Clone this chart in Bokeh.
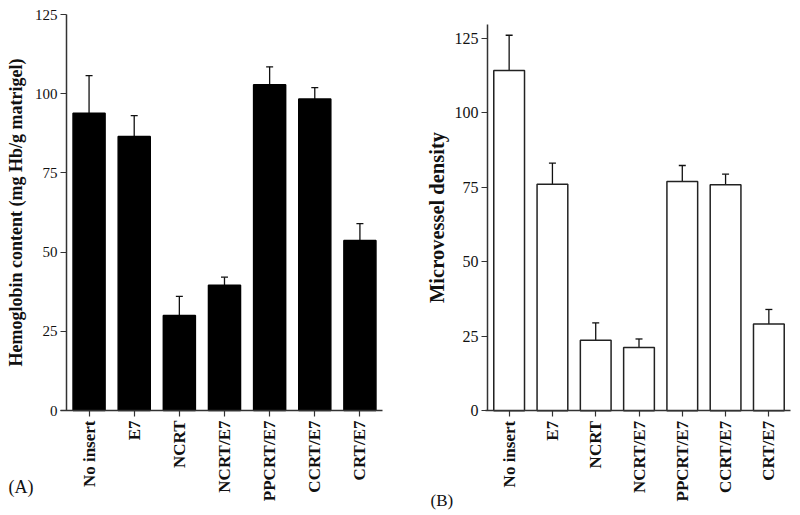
from bokeh.plotting import figure
from bokeh.layouts import row
from bokeh.models import ColumnDataSource, Whisker, TeeHead, Label, FixedTicker, Range1d
from bokeh.embed import file_html
from bokeh.resources import INLINE

categories = ["No insert", "E7", "NCRT", "NCRT/E7", "PPCRT/E7", "CCRT/E7", "CRT/E7"]
hemoglobin = [93.8, 86.5, 30.0, 39.5, 102.8, 98.3, 53.7]
hemoglobin_err = [11.9, 6.6, 6.0, 2.6, 5.7, 3.6, 5.3]
microvessel = [114.2, 76.0, 23.7, 21.2, 76.9, 75.8, 29.1]
microvessel_err = [11.8, 7.1, 5.8, 2.9, 5.4, 3.6, 4.9]
y_ticks = [0, 25, 50, 75, 100, 125]

SERIF = "Liberation Serif"
INK = "#111111"
AXIS = "#333333"


def make_panel(values, errs, title, fill, line_color, xr, yr, ybounds, xbounds,
               tick_size, title_size, title_standoff, panel_label, lab_x, lab_y, lab_size):
    xs = list(range(len(categories)))
    src = ColumnDataSource(dict(x=xs, top=values,
                                upper=[v + e for v, e in zip(values, errs)],
                                lower=values))
    p = figure(width=400, height=515, output_backend="svg", toolbar_location=None,
               x_range=Range1d(*xr), y_range=Range1d(*yr), min_border=0)
    p.title.visible = False
    p.outline_line_color = None
    p.border_fill_color = "white"
    p.background_fill_color = "white"
    p.xgrid.visible = False
    p.ygrid.visible = False
    p.vbar(x="x", top="top", bottom=0, width=0.71, source=src,
           fill_color=fill, line_color=line_color, line_width=1.5)
    w = Whisker(base="x", upper="upper", lower="lower", source=src,
                line_color=INK, line_width=1.3,
                upper_head=TeeHead(size=7, line_color=INK, line_width=1.3),
                lower_head=None)
    p.add_layout(w)

    ax = p.yaxis[0]
    ax.fixed_location = -0.5
    ax.bounds = ybounds
    ax.ticker = FixedTicker(ticks=y_ticks)
    ax.axis_label = title
    ax.axis_label_text_font = SERIF
    ax.axis_label_text_font_style = "bold"
    ax.axis_label_text_font_size = title_size
    ax.axis_label_text_color = INK
    ax.axis_label_standoff = title_standoff
    ax.major_label_text_font = SERIF
    ax.major_label_text_font_size = tick_size
    ax.major_label_text_color = INK
    ax.major_label_standoff = 3
    ax.major_tick_out = 6
    ax.major_tick_in = 0
    ax.minor_tick_out = 0
    ax.minor_tick_in = 0
    ax.axis_line_color = AXIS
    ax.axis_line_width = 1.5
    ax.major_tick_line_color = AXIS
    ax.major_tick_line_width = 1.2

    xa = p.xaxis[0]
    xa.fixed_location = 0
    xa.bounds = xbounds
    xa.ticker = FixedTicker(ticks=xs)
    xa.major_label_overrides = {i: c for i, c in enumerate(categories)}
    xa.major_label_orientation = 3.14159265 / 2
    xa.major_label_text_font = SERIF
    xa.major_label_text_font_style = "bold"
    xa.major_label_text_font_size = "17px"
    xa.major_label_text_color = INK
    xa.major_label_standoff = 4
    xa.major_tick_out = 6
    xa.major_tick_in = 0
    xa.minor_tick_out = 0
    xa.minor_tick_in = 0
    xa.axis_line_color = AXIS
    xa.axis_line_width = 1.5
    xa.major_tick_line_color = AXIS
    xa.major_tick_line_width = 1.2

    p.add_layout(Label(x=lab_x, y=lab_y, text=panel_label, text_font=SERIF,
                       text_font_size=lab_size, text_baseline="middle",
                       text_align="left", text_color=INK))
    return p


pa = make_panel(hemoglobin, hemoglobin_err, "Hemoglobin content (mg Hb/g matrigel)",
                "#000000", "#000000",
                (-1.962, 6.899), (-33.14, 129.42), (0, 125), (-0.63, 6.5),
                "15px", "18px", 6, "(A)", -1.785, -24.3, "18px")
pb = make_panel(microvessel, microvessel_err, "Microvessel density",
                "#ffffff", "#222222",
                (-2.51, 6.731), (-35.12, 137.65), (0, 129.6), (-0.55, 6.5),
                "16px", "20.5px", 4, "(B)", -1.817, -30.1, "17px")

layout = row(pa, pb)
open("out.html", "w").write(file_html(layout, INLINE))
